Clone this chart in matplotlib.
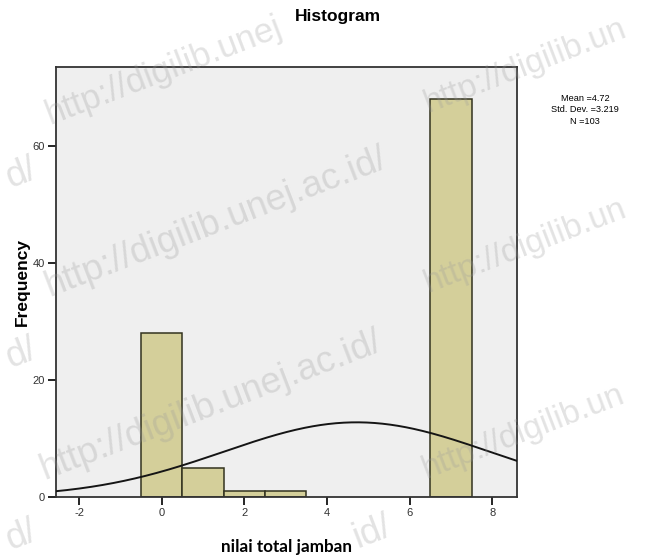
import numpy as np
import matplotlib.pyplot as plt

plt.rcParams['axes.unicode_minus'] = False
plt.rcParams['font.family'] = ['Liberation Sans', 'DejaVu Sans']

# histogram data (bin centres and counts)
bins = [0, 1, 2, 3, 7]
counts = [28, 5, 1, 1, 68]
mean = 4.72
sd = 3.219
n = 103

fig = plt.figure(figsize=(6.49, 5.6), dpi=100)
ax = fig.add_axes([56/649, 63/560, 461/649, 430/560])
ax.set_facecolor('#efefef')

ax.bar(bins, counts, width=1.0, color='#d4cf9a', edgecolor='#33331f', linewidth=1.1, zorder=2)

# fitted normal curve
xs = np.linspace(-2.6, 8.6, 300)
ys = n * 1.0 * np.exp(-0.5 * ((xs - mean) / sd) ** 2) / (sd * np.sqrt(2 * np.pi))
ax.plot(xs, ys, color='#151515', linewidth=1.4, zorder=3)

ax.set_xlim(-2.56, 8.6)
ax.set_ylim(0, 73.5)
ax.set_xticks([-2, 0, 2, 4, 6, 8])
ax.set_yticks([0, 20, 40, 60])
ax.tick_params(direction='out', length=6, width=1.2, labelsize=8, labelcolor='#333333', pad=2)
for s in ax.spines.values():
    s.set_linewidth(1.3)
    s.set_color('#333333')

ax.set_xlabel('nilai total jamban', fontsize=12.3, fontweight='bold', family='Lato', labelpad=15)
ax.set_ylabel('Frequency', fontsize=12.5, fontweight='bold', labelpad=2)
fig.text(338/649, 1 - 16/560, 'Histogram', ha='center', va='center', fontsize=12.5, fontweight='bold')

fig.text(585/649, 1 - 110/560, 'Mean =%.2f\nStd. Dev. =%.3f\nN =%d' % (mean, sd, n),
         ha='center', va='center', fontsize=6.6, linespacing=1.3)

# watermark fragments
wm = [('http://digilib.unej', 50, 124, 25), ('http://digilib.unej.ac.id/', 50, 297, 26.5),
      ('http://digilib.unej.ac.id/', 45, 480, 26.5), ('http://digilib.un', 428, 112, 24),
      ('http://digilib.un', 428, 292, 24), ('http://digilib.un', 426, 478, 24),
      ('d/', 10, 188, 26.5), ('d/', 10, 368, 26.5), ('d/', 10, 550, 26.5), ('id/', 358, 548, 26.5)]
for txt, x0, y0, fs in wm:
    fig.text(x0/649, 1 - y0/560, txt, rotation=21, fontsize=fs, color='#9a9a9a',
             alpha=0.28, ha='left', va='baseline', rotation_mode='anchor', zorder=10)

fig.savefig('out.png', dpi=100)
